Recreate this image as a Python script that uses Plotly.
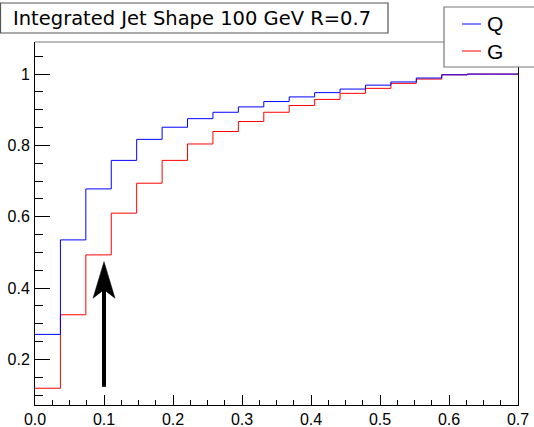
import plotly.graph_objects as go

# ---------------- data ----------------
n_bins = 19
x_min, x_max = 0.0, 0.7
bin_edges = [x_min + (x_max - x_min) * i / n_bins for i in range(n_bins + 1)]

q_values = [0.270, 0.535, 0.678, 0.758, 0.817, 0.851, 0.875, 0.893, 0.908, 0.923,
            0.936, 0.948, 0.958, 0.969, 0.978, 0.989, 0.998, 1.000, 1.000]
g_values = [0.119, 0.325, 0.493, 0.610, 0.694, 0.758, 0.804, 0.839, 0.867, 0.893,
            0.912, 0.929, 0.946, 0.960, 0.974, 0.986, 0.998, 1.000, 1.000]

series_names = ["Q", "G"]
series_colors = ["#0000ff", "#ff0000"]

title_text = "Integrated Jet Shape 100 GeV R=0.7"

# arrow annotation (data coords)
arrow_x = 0.1
arrow_y_tail = 0.123
arrow_y_tip = 0.474

x_tick_vals = [0.0, 0.1, 0.2, 0.3, 0.4, 0.5, 0.6, 0.7]
y_range = [0.072, 1.09]

# ---------------- layout geometry ----------------
W, H = 534, 427
PL, PR, PT, PB = 35, 518, 42, 405


def px_x(px):
    return (px - PL) / (PR - PL)


def px_y(py):
    return (PB - py) / (PB - PT)


def step_xy(values):
    xs = list(bin_edges)
    ys = list(values) + [values[-1]]
    return xs, ys


fig = go.Figure()
for vals, name, col in [(g_values, "G", series_colors[1]), (q_values, "Q", series_colors[0])]:
    xs, ys = step_xy(vals)
    fig.add_trace(go.Scatter(x=xs, y=ys, mode="lines", line=dict(color=col, width=1, shape="hv"),
                             name=name, showlegend=False, hoverinfo="skip"))

tick_font = dict(family="Liberation Sans, Arial, sans-serif", size=16, color="black")

fig.update_layout(
    width=W, height=H,
    margin=dict(l=PL, r=W - PR, t=PT, b=H - PB, pad=0, autoexpand=False),
    paper_bgcolor="white", plot_bgcolor="white",
    showlegend=False,
    xaxis=dict(range=[x_min, x_max], showgrid=False, zeroline=False, automargin=False,
               showline=True, linecolor="black", linewidth=1, mirror=False,
               ticks="inside", ticklen=10, tickwidth=1, tickcolor="black",
               tickvals=x_tick_vals, tickformat=".1f", tickfont=tick_font,
               ticklabelstandoff=0,
               minor=dict(ticks="inside", ticklen=5, tickwidth=1, tickcolor="black", dtick=0.025, tick0=0,
                          showgrid=False)),
    yaxis=dict(range=y_range, showgrid=False, zeroline=False, automargin=False,
               showline=True, linecolor="black", linewidth=1, mirror=True,
               ticks="inside", ticklen=15, tickwidth=1, tickcolor="black",
               dtick=0.2, tick0=0, tickfont=tick_font, ticklabelstandoff=1,
               minor=dict(ticks="inside", ticklen=8, tickwidth=1, tickcolor="black", dtick=0.05, tick0=0,
                          showgrid=False)),
)

shapes = []
# top frame line (gray)
shapes.append(dict(type="line", xref="paper", yref="paper", x0=0, x1=1, y0=1, y1=1,
                   line=dict(color="#7a7a7a", width=1.2), layer="above"))

# arrow: shaft + head
xscale = (PR - PL) / (x_max - x_min)
yscale = (PB - PT) / (y_range[1] - y_range[0])
head_half_w = 11 / xscale
head_len = 36.5 / yscale
notch_len = 28 / yscale
y_notch = arrow_y_tip - notch_len
y_base = arrow_y_tip - head_len
shapes.append(dict(type="line", xref="x", yref="y", x0=arrow_x, x1=arrow_x,
                   y0=arrow_y_tail, y1=y_notch + 2 / yscale,
                   line=dict(color="black", width=4), layer="above"))
shapes.append(dict(type="path", xref="x", yref="y",
                   path=f"M {arrow_x - head_half_w},{y_base} L {arrow_x},{arrow_y_tip} "
                        f"L {arrow_x + head_half_w},{y_base} L {arrow_x},{y_notch} Z",
                   fillcolor="black", line=dict(color="black", width=0.5), layer="above"))

# title box
shapes.append(dict(type="rect", xref="paper", yref="paper",
                   x0=px_x(0.5), x1=px_x(388), y0=px_y(33), y1=px_y(3),
                   fillcolor="white", line=dict(color="#555555", width=1.2), layer="above"))
# legend box
shapes.append(dict(type="rect", xref="paper", yref="paper",
                   x0=px_x(444), x1=px_x(545), y0=px_y(67), y1=px_y(7),
                   fillcolor="white", line=dict(color="#777777", width=1.2), layer="above"))
leg_rows = [24, 51]
for name, col, yc in zip(series_names, series_colors, leg_rows):
    shapes.append(dict(type="line", xref="paper", yref="paper",
                       x0=px_x(462), x1=px_x(481), y0=px_y(yc), y1=px_y(yc),
                       line=dict(color=col, width=1), layer="above"))
fig.update_layout(shapes=shapes)

annotations = [dict(text=title_text, xref="paper", yref="paper", x=px_x(11), y=px_y(18.5),
                    xanchor="left", yanchor="middle", showarrow=False,
                    font=dict(family="DejaVu Sans", size=19.5, color="black"))]
for name, yc in zip(series_names, leg_rows):
    annotations.append(dict(text=name, xref="paper", yref="paper", x=px_x(485), y=px_y(yc),
                            xanchor="left", yanchor="middle", showarrow=False,
                            font=dict(family="Liberation Sans, Arial, sans-serif", size=21, color="black")))
fig.update_layout(annotations=annotations)

fig.write_html("out.html")
